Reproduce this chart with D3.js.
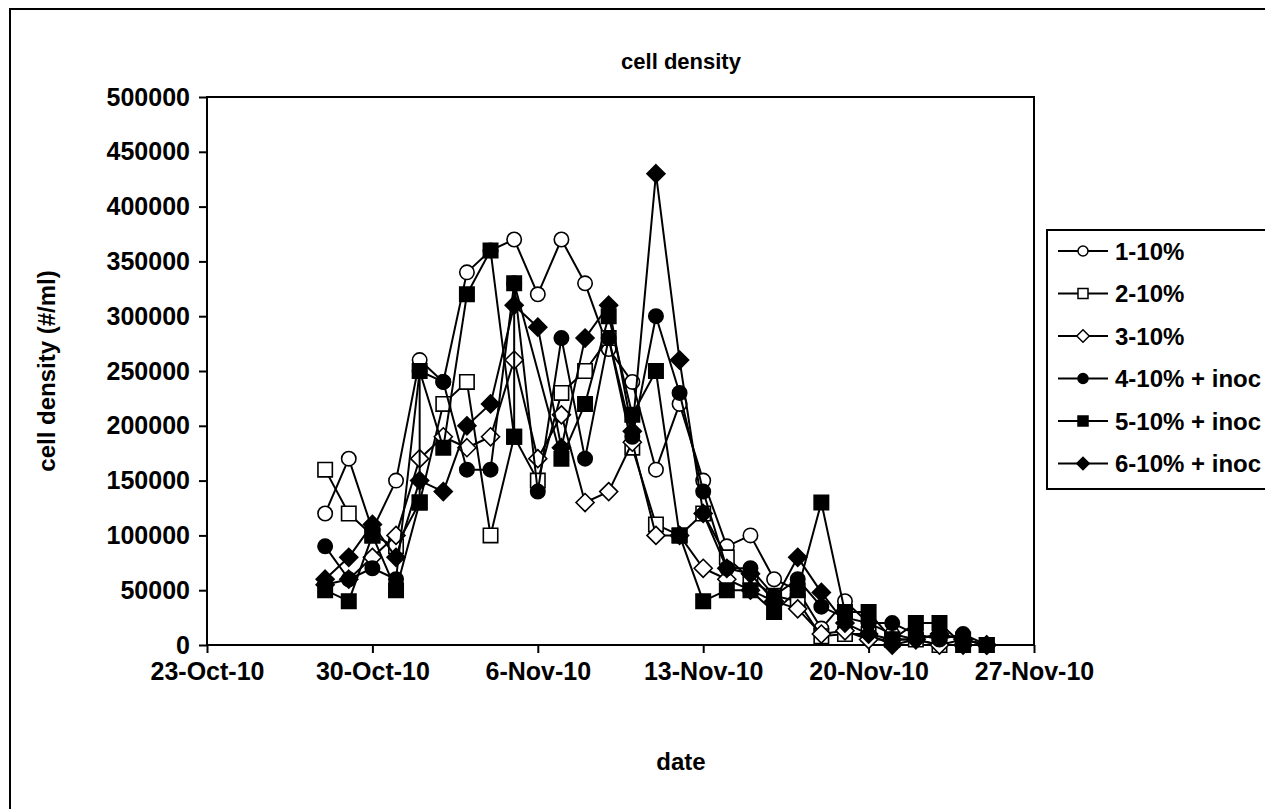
<!DOCTYPE html>
<html>
<head>
<meta charset="utf-8">
<script src="https://cdn.jsdelivr.net/npm/d3@7"></script>
<style>
body { margin: 0; background: #fff; }
svg text { font-family: "Liberation Sans", Arial, sans-serif; font-weight: bold; fill: #000; }
</style>
</head>
<body>
<div id="vis"></div>
<script>
// sample dates (daily) shared by most series
const days = ["2010-10-28","2010-10-29","2010-10-30","2010-10-31","2010-11-01","2010-11-02","2010-11-03",
              "2010-11-04","2010-11-05","2010-11-06","2010-11-07","2010-11-08","2010-11-09","2010-11-10",
              "2010-11-11","2010-11-12","2010-11-13","2010-11-14","2010-11-15","2010-11-16","2010-11-17",
              "2010-11-18","2010-11-19","2010-11-20","2010-11-21","2010-11-22","2010-11-23","2010-11-24",
              "2010-11-25"];
// the 5-10% series has its own (irregular) dates
const s5Days = ["2010-10-28","2010-10-29","2010-10-30","2010-10-31","2010-11-01","2010-11-01","2010-11-02",
                "2010-11-03","2010-11-04","2010-11-05","2010-11-05","2010-11-07","2010-11-08","2010-11-09",
                "2010-11-10","2010-11-11","2010-11-12","2010-11-13","2010-11-14","2010-11-15","2010-11-16",
                "2010-11-17","2010-11-18","2010-11-19","2010-11-20","2010-11-21","2010-11-22","2010-11-23",
                "2010-11-24","2010-11-25"];

const s1 = [120000,170000,105000,150000,260000,240000,340000,360000,370000,320000,370000,330000,270000,240000,
            160000,220000,150000,90000,100000,60000,50000,15000,40000,20000,10000,5000,10000,5000,0];
const s2 = [160000,120000,100000,90000,130000,220000,240000,100000,190000,150000,230000,250000,280000,180000,
            110000,100000,120000,80000,60000,45000,40000,8000,10000,10000,5000,5000,0,5000,0];
const s3 = [55000,60000,80000,100000,170000,190000,180000,190000,260000,170000,210000,130000,140000,185000,
            100000,100000,70000,60000,50000,40000,33000,10000,13000,5000,5000,5000,0,0,0];
const s4 = [90000,60000,70000,60000,250000,240000,160000,160000,330000,140000,280000,170000,280000,190000,
            300000,230000,140000,70000,70000,45000,60000,35000,25000,20000,20000,10000,5000,10000,0];
const s5 = [50000,40000,100000,50000,130000,250000,180000,320000,360000,190000,330000,170000,220000,300000,
            210000,250000,100000,40000,50000,50000,30000,50000,130000,30000,30000,5000,20000,20000,0,0];
const s6 = [60000,80000,110000,80000,150000,140000,200000,220000,310000,290000,180000,280000,310000,195000,
            430000,260000,120000,70000,65000,40000,80000,48000,20000,10000,0,5000,10000,5000,0];

const seriesNames = ["1-10%", "2-10%", "3-10%", "4-10% + inoc", "5-10% + inoc", "6-10% + inoc"];
const xTickDates = ["2010-10-23","2010-10-30","2010-11-06","2010-11-13","2010-11-20","2010-11-27"];
const yTicks = [0,50000,100000,150000,200000,250000,300000,350000,400000,450000,500000];

const W = 1265, H = 809;
const plot = { left: 207, top: 97, right: 1034, bottom: 645 };

const parse = d3.utcParse("%Y-%m-%d");

// marker shape for each series
const markers = [
    { shape: "circle",  fill: "#fff" },
    { shape: "square",  fill: "#fff" },
    { shape: "diamond", fill: "#fff" },
    { shape: "circle",  fill: "#000" },
    { shape: "square",  fill: "#000" },
    { shape: "diamond", fill: "#000" }
];

function markerPath(shape, s) {
    if (shape === "circle") {
        const p = d3.path();
        p.arc(0, 0, s, 0, 2 * Math.PI);
        p.closePath();
        return p.toString();
    }
    if (shape === "square") {
        return `M${-s},${-s}H${s}V${s}H${-s}Z`;
    }
    const d = s * 1.25;
    return `M0,${-d}L${d},0L0,${d}L${-d},0Z`;
}

const svg = d3.select("#vis").append("svg").attr("width", W).attr("height", H);

// outer chart border
svg.append("rect")
    .attr("x", 10).attr("y", 9).attr("width", 1300).attr("height", 900)
    .attr("fill", "#fff").attr("stroke", "#000").attr("stroke-width", 2);

const x = d3.scaleUtc()
    .domain([parse("2010-10-23"), parse("2010-11-27")])
    .range([plot.left, plot.right]);
const y = d3.scaleLinear().domain([0, 500000]).range([plot.bottom, plot.top]);

// axes
const xAxis = d3.axisBottom(x)
    .tickValues(xTickDates.map(parse))
    .tickFormat(d3.utcFormat("%-d-%b-%y"))
    .tickSizeOuter(0).tickSizeInner(8).tickPadding(9);
const yAxis = d3.axisLeft(y)
    .tickValues(yTicks)
    .tickFormat(d3.format("d"))
    .tickSizeOuter(0).tickSizeInner(8).tickPadding(9);

const gx = svg.append("g").attr("transform", `translate(0,${plot.bottom})`).call(xAxis);
const gy = svg.append("g").attr("transform", `translate(${plot.left},0)`).call(yAxis);
[gx, gy].forEach(g => {
    g.select(".domain").remove();
    g.selectAll(".tick line").attr("stroke", "#000").attr("stroke-width", 2);
    g.selectAll(".tick text").style("font-size", "25px");
});

// plot area frame
svg.append("rect")
    .attr("x", plot.left).attr("y", plot.top)
    .attr("width", plot.right - plot.left).attr("height", plot.bottom - plot.top)
    .attr("fill", "none").attr("stroke", "#000").attr("stroke-width", 2);

// series
const allValues = [s1, s2, s3, s4, s5, s6];
const series = allValues.map((vals, i) => {
    const ds = (i === 4 ? s5Days : days);
    return {
        name: seriesNames[i],
        marker: markers[i],
        points: vals.map((v, j) => ({ date: parse(ds[j]), value: v }))
    };
});

const line = d3.line().x(d => x(d.date)).y(d => y(d.value));

series.forEach(s => {
    const g = svg.append("g");
    g.append("path")
        .attr("d", line(s.points))
        .attr("fill", "none").attr("stroke", "#000").attr("stroke-width", 2)
        .attr("stroke-linejoin", "round");
    g.selectAll("path.mk").data(s.points).join("path")
        .attr("class", "mk")
        .attr("transform", d => `translate(${x(d.date)},${y(d.value)})`)
        .attr("d", markerPath(s.marker.shape, 7.2))
        .attr("fill", s.marker.fill).attr("stroke", "#000").attr("stroke-width", 1.6);
});

// titles
svg.append("text").attr("x", 681).attr("y", 69).attr("text-anchor", "middle")
    .style("font-size", "22px").text("cell density");
svg.append("text").attr("x", 681).attr("y", 770).attr("text-anchor", "middle")
    .style("font-size", "24px").text("date");
svg.append("text").attr("transform", "translate(55,371) rotate(-90)").attr("text-anchor", "middle")
    .style("font-size", "24px").text("cell density (#/ml)");

// legend
const legend = svg.append("g").attr("transform", "translate(1047,230)");
legend.append("rect").attr("width", 260).attr("height", 259)
    .attr("fill", "#fff").attr("stroke", "#000").attr("stroke-width", 2);
const rows = legend.selectAll("g.row").data(series).join("g")
    .attr("class", "row")
    .attr("transform", (d, i) => `translate(0,${21 + i * 42.5})`);
rows.append("line").attr("x1", 11).attr("x2", 61)
    .attr("stroke", "#000").attr("stroke-width", 2);
rows.append("path")
    .attr("transform", "translate(36,0)")
    .attr("d", d => markerPath(d.marker.shape, 5))
    .attr("fill", d => d.marker.fill).attr("stroke", "#000").attr("stroke-width", 1.5);
rows.append("text").attr("x", 68).attr("dy", "0.36em")
    .style("font-size", "24px").text(d => d.name);
</script>
</body>
</html>
